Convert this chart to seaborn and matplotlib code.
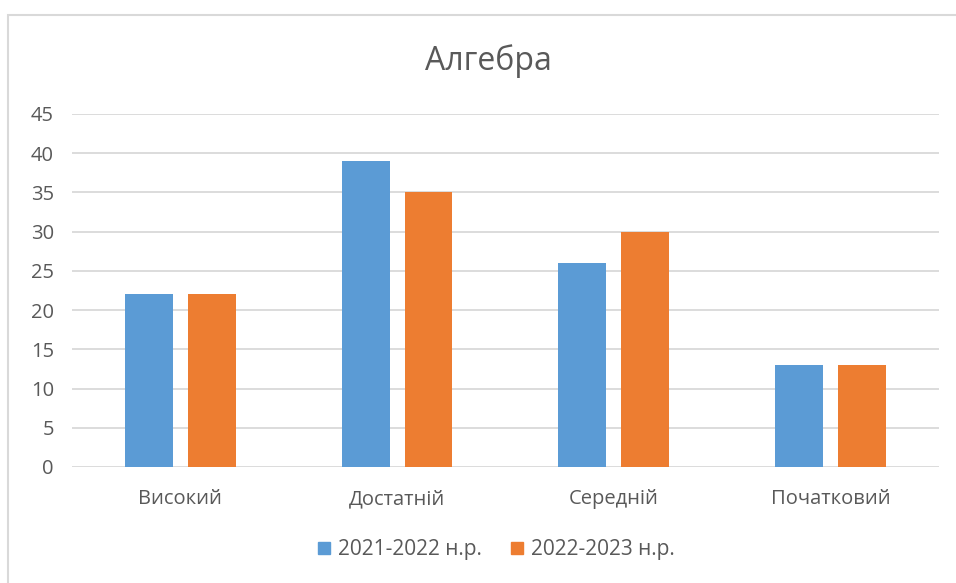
import pandas as pd
import seaborn as sns
import matplotlib.pyplot as plt
from matplotlib.patches import Rectangle
from matplotlib.lines import Line2D

# data
levels = ["Високий", "Достатній", "Середній", "Початковий"]
year_2021 = [22, 39, 26, 13]
year_2022 = [22, 35, 30, 13]
series_names = ["2021-2022 н.р.", "2022-2023 н.р."]
colors = ["#5B9BD5", "#ED7D31"]
y_ticks = [0, 5, 10, 15, 20, 25, 30, 35, 40, 45]

df = pd.DataFrame({
    "level": levels * 2,
    "value": year_2021 + year_2022,
    "year": [series_names[0]] * 4 + [series_names[1]] * 4,
})

sns.set_style("white")
plt.rcParams['font.family'] = ['Open Sans', 'DejaVu Sans']
text_color = "#595959"

fig = plt.figure(figsize=(9.56, 5.83), dpi=100)
ax = fig.add_axes([0.0753, 0.199, 0.982 - 0.0753, 0.8045 - 0.199])

sns.barplot(data=df, x="level", y="value", hue="year", palette=colors,
            width=0.58, gap=0.238, saturation=1, linewidth=0, ax=ax,
            legend=False)

ax.set_ylim(0, 45)
ax.set_xlim(-0.5, 3.5)
ax.set_yticks(y_ticks)
ax.yaxis.grid(True, color="#D9D9D9", linewidth=1.3)
ax.set_axisbelow(True)
for s in ax.spines.values():
    s.set_visible(False)
ax.tick_params(axis="both", length=0, labelsize=14.5, labelcolor=text_color)
ax.tick_params(axis="x", pad=16)
ax.tick_params(axis="y", pad=13)
ax.set_xlabel("")
ax.set_ylabel("")

fig.text(0.5105, 1 - 61 / 583, "Алгебра", ha="center", va="center",
         fontsize=23, color=text_color)

handles = [Line2D([], [], marker="s", linestyle="", markersize=8.5,
                  markerfacecolor=c, markeredgecolor=c) for c in colors]
fig.legend(handles, series_names, loc="center", ncol=2,
           bbox_to_anchor=(0.518, 1 - 550 / 583), frameon=False,
           fontsize=15, labelcolor=text_color, handletextpad=0.27,
           columnspacing=1.3, handlelength=0.8)

# chart border (right and bottom edges are cropped off)
fig.patches.append(Rectangle((8 / 956, -0.1), 1.2, 1 - 15 / 583 + 0.1,
                             transform=fig.transFigure, fill=False,
                             edgecolor="#D9D9D9", linewidth=1.5))

plt.savefig("out.png", dpi=100)
